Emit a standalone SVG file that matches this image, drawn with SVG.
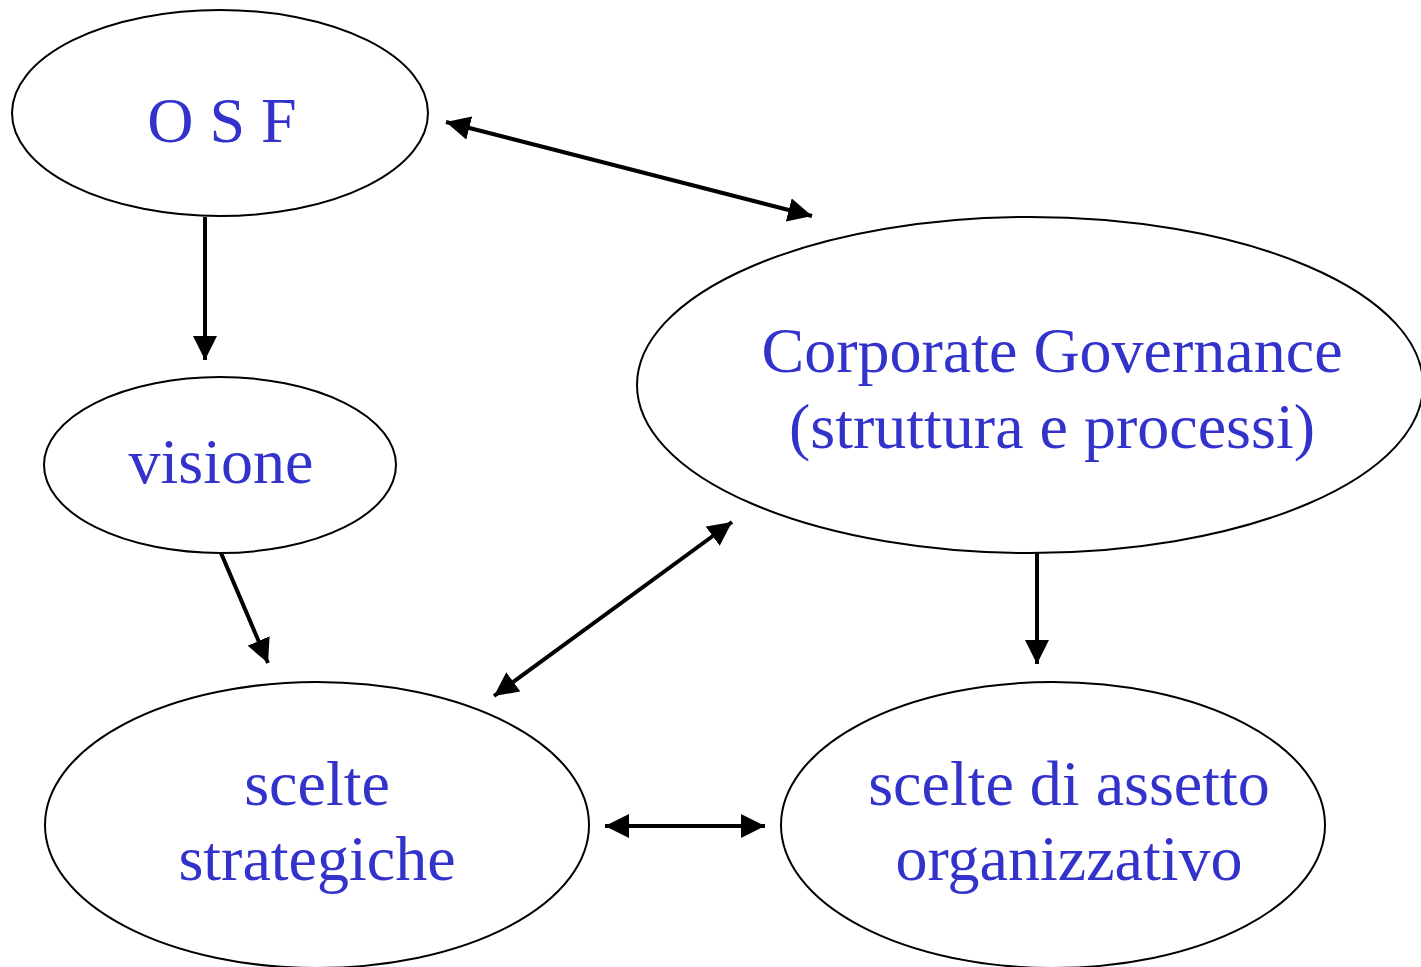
<svg xmlns="http://www.w3.org/2000/svg" width="1421" height="967" viewBox="0 0 1421 967">
<defs>
<style>
.node ellipse{fill:#fff;stroke:#000;stroke-width:2}
.node text{font-family:"Liberation Serif","Times New Roman",serif;font-size:64px;fill:#3333CC;text-anchor:middle}
.conn line{stroke:#000;stroke-width:4}
</style>
<marker id="ah" viewBox="0 0 10 10" refX="10" refY="5" markerWidth="6" markerHeight="6" orient="auto-start-reverse" markerUnits="strokeWidth">
<path d="M0,0 L10,5 L0,10 Z" fill="#000"/>
</marker>
</defs>
<rect width="1421" height="967" fill="#fff"/>
<g class="conn">
<line x1="205" y1="217" x2="205" y2="360" marker-end="url(#ah)"/>
<line x1="446" y1="122" x2="812" y2="216" marker-start="url(#ah)" marker-end="url(#ah)"/>
<line x1="221" y1="553" x2="268" y2="663" marker-end="url(#ah)"/>
<line x1="732" y1="522" x2="494" y2="696" marker-start="url(#ah)" marker-end="url(#ah)"/>
<line x1="1037" y1="553" x2="1037" y2="664" marker-end="url(#ah)"/>
<line x1="605" y1="826" x2="765" y2="826" marker-start="url(#ah)" marker-end="url(#ah)"/>
</g>
<g id="osf" class="node">
<ellipse cx="220" cy="113" rx="208" ry="103"/>
<text x="222" y="142">O S F</text>
</g>
<g id="visione" class="node">
<ellipse cx="220" cy="465" rx="176" ry="88"/>
<text x="221" y="483">visione</text>
</g>
<g id="cg" class="node">
<ellipse cx="1030" cy="385" rx="393" ry="168"/>
<text x="1052" y="372">Corporate Governance</text>
<text x="1052" y="448">(struttura e processi)</text>
</g>
<g id="scelte" class="node">
<ellipse cx="317" cy="825" rx="272" ry="143"/>
<text x="317" y="805">scelte</text>
<text x="317" y="880">strategiche</text>
</g>
<g id="assetto" class="node">
<ellipse cx="1053" cy="825" rx="272" ry="143"/>
<text x="1069" y="805">scelte di assetto</text>
<text x="1069" y="880">organizzativo</text>
</g>
</svg>
